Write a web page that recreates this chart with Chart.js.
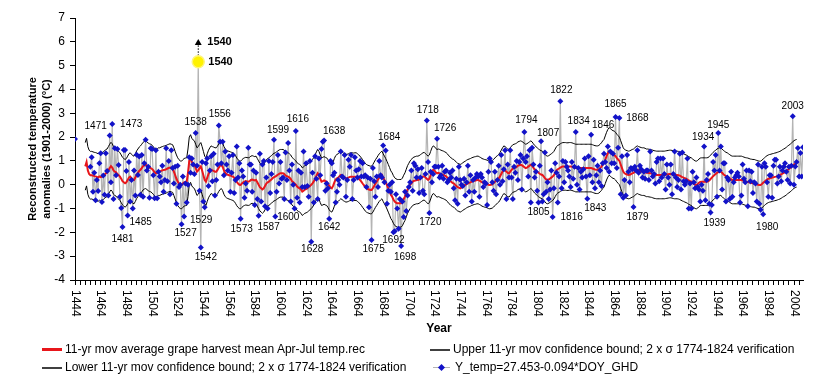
<!DOCTYPE html>
<html>
<head>
<meta charset="utf-8">
<script src="https://cdn.jsdelivr.net/npm/chart.js@4.4.1/dist/chart.umd.min.js"></script>
<style>
html,body{margin:0;padding:0;background:#fff;}
#wrap{position:relative;width:818px;height:384px;overflow:hidden;background:#fff;}
canvas{position:absolute;left:0;top:0;}
.lg{position:absolute;font-family:"Liberation Sans",Arial,sans-serif;font-size:12px;color:#000;white-space:nowrap;line-height:14px;}
.ln{position:absolute;}
</style>
</head>
<body>
<div id="wrap">
<canvas id="c" width="818" height="384"></canvas>
<div class="ln" style="left:42px;top:348px;width:20px;height:3px;background:#E8161B;"></div>
<div class="lg" style="left:65px;top:342px;">11-yr mov average grape harvest mean Apr-Jul temp.rec</div>
<div class="ln" style="left:430px;top:349px;width:20px;height:1.5px;background:#404040;"></div>
<div class="lg" style="left:453px;top:342px;">Upper 11-yr mov confidence bound; 2 x σ 1774-1824 verification</div>
<div class="ln" style="left:42px;top:367px;width:20px;height:1.5px;background:#404040;"></div>
<div class="lg" style="left:65px;top:360px;">Lower 11-yr mov confidence bound; 2 x σ 1774-1824 verification</div>
<div class="ln" style="left:433px;top:367px;width:17px;height:1px;background:#B4B4B4;"></div>
<div class="ln" style="left:439px;top:365px;width:5px;height:5px;background:#1212C8;transform:rotate(45deg);"></div>
<div class="lg" style="left:455px;top:360px;">Y_temp=27.453-0.094*DOY_GHD</div>
</div>
<script>
// ---------------- DATA ----------------
const firstYear = 1444;
const lastYear = 2011;
const xTickLabels = ['1444','1464','1484','1504','1524','1544','1564','1584','1604','1624','1644','1664','1684','1704','1724','1744','1764','1784','1804','1824','1844','1864','1884','1904','1924','1944','1964','1984','2004'];

// Y_temp = 27.453 - 0.094*DOY_GHD, yearly from 1444
const tempStart = 1444;
const tempRec = [
1.92,null,null,null,null,null,null,null,null,null,
null,null,0.75,1.15,-0.3,0.5,-0.65,0.2,-0.26,0.9,
1.32,-0.73,0.39,-0.42,1.32,0.58,-0.45,2.07,0.1,2.55,
-0.6,1.53,0.4,1.5,0.83,-0.5,-0.98,-1.78,1.46,1.46,
0.58,-1.29,0.95,-0.7,0.2,-1.0,0.6,-0.45,1.26,0.41,
1.19,-0.42,1.25,-0.5,0.9,1.89,0.6,0.75,-0.55,1.53,
1.5,0.4,-0.57,1.45,-0.57,0.55,0.35,0.1,0.8,-0.3,
0.2,1.53,0.15,1.0,-0.4,1.45,0.7,0.05,0.75,-0.8,
0.8,-0.1,0.0,-1.66,0.35,-1.33,0.05,-0.75,0.0,1.15,
0.5,1.1,0.85,0.45,2.17,0.8,5.16,-0.25,-2.64,0.95,
-0.7,-0.95,0.9,1.1,-0.05,0.6,1.2,0.15,1.3,-0.45,
0.2,0.85,2.49,1.8,0.9,1.8,0.4,1.4,0.85,0.6,
1.2,-0.3,0.5,1.25,-0.35,0.2,1.6,0.3,0.9,-1.43,
0.6,0.35,-0.55,0.05,-0.25,1.55,0.85,0.85,-0.3,0.6,
-0.85,0.5,-0.6,-1.3,1.3,-0.7,0.85,1.0,-0.9,0.3,
-1.0,1.0,-0.35,0.45,0.95,1.89,-1.33,-0.3,1.25,0.05,
0.95,0.25,0.3,-0.6,1.35,0.2,1.75,0.6,-0.7,0.85,
0.0,-1.0,2.26,-0.55,0.6,-0.75,0.5,-0.1,1.4,-0.1,
0.9,-0.05,-0.5,1.0,-2.39,0.5,-0.75,1.2,0.25,-0.6,
1.1,0.4,1.5,1.8,1.86,-0.25,0.05,-0.15,-1.43,1.0,
0.9,0.4,0.5,-0.75,-0.3,0.2,0.0,1.4,0.35,0.3,
1.25,-0.5,0.2,1.05,0.75,1.25,-0.6,0.2,1.15,0.6,
0.3,0.65,1.0,0.35,0.9,0.35,0.4,-0.1,0.3,-0.95,
0.25,-2.32,0.7,0.15,-0.5,0.35,-0.1,1.0,0.4,0.3,
1.65,0.1,1.44,-0.8,-0.25,0.0,-0.3,0.1,-1.99,-1.95,
-0.4,-1.0,-1.85,-0.6,-2.57,-0.7,-1.35,-0.3,-1.1,-0.45,
-0.1,0.1,0.6,-0.25,0.9,0.8,0.3,0.65,-0.35,0.3,
0.7,-0.25,-0.4,0.45,2.7,0.95,-1.19,0.55,0.1,0.45,
0.75,0.75,1.93,0.75,0.3,0.4,0.8,0.25,0.55,0.6,
0.1,0.2,0.5,0.3,0.6,-0.15,-0.65,0.25,-0.8,0.75,
0.2,0.0,-0.05,0.25,-0.45,0.1,0.8,-0.3,0.4,-0.7,
0.2,-0.3,0.3,0.45,0.35,-0.5,0.45,0.3,-0.1,0.1,
0.05,-0.85,0.55,1.1,0.95,0.1,-0.25,0.55,-0.4,0.2,
0.8,0.0,1.25,0.15,0.65,1.45,-0.6,0.85,0.3,1.45,
0.3,-0.6,0.75,0.5,1.0,0.2,0.95,1.25,-0.2,1.1,
2.21,0.95,1.2,0.35,1.45,-0.75,1.55,0.85,0.3,0.55,
-0.25,-0.75,0.8,1.83,-0.7,-0.4,1.35,-0.3,0.1,-0.6,
-0.2,0.6,-1.35,-0.15,0.9,0.5,-0.75,0.35,3.5,-0.15,
1.0,0.1,0.95,0.75,0.6,0.35,-0.1,0.95,0.25,0.75,
2.21,0.0,0.7,-0.2,0.55,0.3,0.65,1.1,0.35,-0.59,
1.2,0.4,2.1,0.1,1.05,-0.15,0.4,0.8,0.1,0.6,
-0.05,0.9,1.3,0.95,0.7,1.6,0.55,1.4,0.9,1.3,
0.9,2.84,0.7,1.55,2.8,-0.4,1.2,-0.55,0.2,-0.45,
1.25,0.55,0.1,0.7,0.65,-0.93,0.75,0.6,1.45,0.5,
0.8,0.65,0.3,0.55,0.25,0.6,0.6,0.2,1.4,0.6,
0.35,0.45,0.05,0.95,1.1,0.15,1.1,0.3,1.1,0.45,
-0.2,0.85,0.3,0.0,0.85,-0.4,0.45,1.4,0.3,-0.1,
0.2,1.3,-0.2,1.35,0.15,0.0,0.15,1.1,-1.0,0.05,
-1.0,0.55,0.1,-0.15,0.3,-0.1,-0.2,-0.7,0.0,-0.25,
1.6,-0.65,0.2,0.45,-0.8,-1.17,-0.85,0.95,0.6,1.25,
-0.5,2.17,0.6,1.6,-0.2,0.9,0.9,-0.7,0.3,0.2,
-0.6,0.55,-0.5,0.1,0.3,0.4,0.5,0.35,-0.75,-0.45,
0.85,0.25,0.1,0.6,-0.9,0.6,0.15,0.55,-0.35,0.1,
0.05,-0.7,0.85,-0.8,-1.05,0.75,-1.24,0.9,0.75,0.1,
-0.5,0.4,0.4,-0.55,0.8,1.05,1.05,0.05,0.35,0.75,
0.15,0.6,0.75,0.9,0.55,0.2,0.75,0.05,0.8,2.87,
0.0,0.77,0.95,1.54,0.35,1.33,0.35,1.57
];

// 11-yr moving average and confidence bounds, yearly from 1452
const smoothStart = 1452;
const movAvg = [
0.77,0.95,0.6,0.45,0.4,0.4,0.38,0.36,0.35,0.33,
0.3,0.35,0.32,0.34,0.38,0.42,0.48,0.5,0.6,0.7,
0.78,0.72,0.6,0.55,0.52,0.45,0.4,0.34,0.25,0.15,
0.1,0.06,0.1,0.2,0.3,0.34,0.28,0.22,0.2,0.3,
0.42,0.5,0.58,0.63,0.7,0.78,0.82,0.84,0.8,0.75,
0.72,0.7,0.66,0.6,0.52,0.48,0.5,0.55,0.55,0.58,
0.6,0.62,0.63,0.65,0.68,0.7,0.72,0.7,0.68,0.55,
0.4,0.25,0.13,0.05,0.0,-0.01,0.05,0.1,0.12,0.13,
0.5,1.0,1.1,0.95,0.88,0.84,0.7,0.55,0.6,0.7,
0.77,0.6,0.4,0.2,0.13,0.3,0.45,0.55,0.63,0.6,
0.58,0.55,0.55,0.62,0.72,0.8,0.84,0.75,0.6,0.5,
0.45,0.42,0.4,0.38,0.36,0.34,0.3,0.22,0.12,0.05,
0.0,-0.01,0.05,0.1,0.13,0.15,0.14,0.13,0.15,0.2,
0.22,0.2,0.18,0.2,0.1,0.0,-0.1,-0.15,-0.2,-0.15,
-0.05,0.05,0.1,0.13,0.18,0.22,0.28,0.32,0.34,0.38,
0.42,0.46,0.48,0.48,0.48,0.45,0.38,0.36,0.34,0.3,
0.25,0.15,0.1,0.05,0.0,-0.08,-0.12,-0.15,-0.2,-0.29,
-0.25,-0.2,-0.18,-0.15,-0.1,-0.05,0.0,0.06,0.15,0.25,
0.38,0.48,0.4,0.25,0.13,0.15,0.18,0.15,0.13,0.05,
-0.05,-0.12,-0.15,-0.05,0.1,0.22,0.27,0.3,0.36,0.41,
0.38,0.33,0.3,0.27,0.28,0.3,0.33,0.34,0.34,0.33,
0.34,0.34,0.3,0.25,0.2,0.13,0.05,-0.02,-0.1,-0.15,
-0.18,-0.2,-0.22,-0.22,-0.15,-0.05,0.05,0.13,0.22,0.3,
0.36,0.41,0.3,0.2,0.1,-0.02,-0.15,-0.28,-0.42,-0.5,
-0.62,-0.71,-0.75,-0.78,-0.78,-0.78,-0.78,-0.72,-0.6,-0.5,
-0.35,-0.2,-0.1,0.0,0.06,0.13,0.16,0.18,0.2,0.2,
0.22,0.26,0.3,0.34,0.36,0.3,0.25,0.2,0.25,0.4,
0.55,0.63,0.6,0.52,0.48,0.5,0.48,0.45,0.43,0.41,
0.38,0.35,0.3,0.22,0.18,0.12,0.08,0.06,0.0,-0.05,
-0.1,-0.12,-0.15,-0.12,-0.08,-0.04,-0.01,0.03,0.06,0.08,
0.1,0.13,0.15,0.17,0.18,0.2,0.2,0.17,0.14,0.1,
0.08,0.06,0.05,0.03,0.0,-0.01,0.0,0.02,0.06,0.12,
0.18,0.22,0.27,0.35,0.45,0.55,0.63,0.6,0.55,0.5,
0.48,0.55,0.62,0.68,0.7,0.72,0.75,0.8,0.82,0.84,
0.82,0.78,0.74,0.7,0.72,0.76,0.8,0.84,0.8,0.72,
0.65,0.6,0.55,0.5,0.46,0.43,0.41,0.35,0.28,0.22,
0.2,0.22,0.26,0.3,0.34,0.4,0.5,0.6,0.65,0.68,
0.72,0.75,0.77,0.77,0.77,0.76,0.76,0.77,0.77,0.76,
0.74,0.72,0.7,0.7,0.7,0.7,0.7,0.7,0.7,0.7,
0.7,0.7,0.7,0.7,0.7,0.68,0.66,0.64,0.63,0.63,
0.65,0.7,0.76,0.84,0.9,1.05,1.2,1.32,1.4,1.36,
1.3,1.27,1.25,1.2,1.12,1.06,1.0,0.85,0.7,0.55,
0.48,0.45,0.43,0.41,0.42,0.45,0.48,0.5,0.55,0.6,
0.63,0.6,0.58,0.56,0.55,0.55,0.53,0.5,0.5,0.49,
0.48,0.47,0.45,0.43,0.42,0.41,0.41,0.41,0.41,0.41,
0.41,0.41,0.42,0.43,0.44,0.45,0.45,0.44,0.42,0.41,
0.41,0.41,0.4,0.38,0.35,0.32,0.3,0.27,0.25,0.22,
0.18,0.15,0.13,0.08,0.04,0.0,-0.01,0.02,0.08,0.12,
0.13,0.13,0.13,0.13,0.13,0.14,0.18,0.24,0.3,0.36,
0.41,0.45,0.5,0.53,0.55,0.55,0.5,0.44,0.4,0.36,
0.34,0.3,0.26,0.22,0.2,0.2,0.2,0.2,0.2,0.2,
0.2,0.2,0.18,0.16,0.14,0.13,0.12,0.1,0.08,0.07,
0.06,0.06,0.04,0.02,0.0,-0.01,-0.01,0.03,0.08,0.13,
0.18,0.22,0.25,0.27,0.28,0.3,0.31,0.33,0.34,0.36,
0.38,0.4,0.43,0.47,0.5,0.53,0.57,0.62,0.66,0.7,
0.75,0.8,0.85,0.88,0.9
];
const upperBound = [
1.77,1.95,1.6,1.45,1.4,1.4,1.38,1.36,1.35,1.33,
1.3,1.35,1.32,1.34,1.38,1.42,1.48,1.5,1.6,1.7,
1.78,1.72,1.6,1.55,1.52,1.45,1.4,1.34,1.25,1.15,
1.1,1.06,1.1,1.2,1.3,1.34,1.28,1.22,1.2,1.3,
1.42,1.5,1.58,1.63,1.7,1.78,1.82,1.84,1.8,1.75,
1.72,1.7,1.66,1.6,1.52,1.48,1.5,1.55,1.55,1.58,
1.6,1.62,1.63,1.65,1.68,1.7,1.72,1.7,1.68,1.55,
1.4,1.25,1.13,1.05,1.0,0.99,1.05,1.1,1.12,1.13,
1.5,2.0,2.1,1.95,1.88,1.84,1.7,1.55,1.6,1.7,
1.77,1.6,1.4,1.2,1.13,1.3,1.45,1.55,1.63,1.6,
1.58,1.55,1.55,1.62,1.72,1.8,1.84,1.75,1.6,1.5,
1.45,1.42,1.4,1.38,1.36,1.34,1.3,1.22,1.12,1.05,
1.0,0.99,1.05,1.1,1.13,1.15,1.14,1.13,1.15,1.2,
1.22,1.2,1.18,1.2,1.1,1.0,0.9,0.85,0.8,0.85,
0.95,1.05,1.1,1.13,1.18,1.22,1.28,1.32,1.34,1.38,
1.42,1.46,1.48,1.48,1.48,1.45,1.38,1.36,1.34,1.3,
1.25,1.15,1.1,1.05,1.0,0.92,0.88,0.85,0.8,0.71,
0.75,0.8,0.82,0.85,0.9,0.95,1.0,1.06,1.15,1.25,
1.38,1.48,1.4,1.25,1.13,1.15,1.18,1.15,1.13,1.05,
0.95,0.88,0.85,0.95,1.1,1.22,1.27,1.3,1.36,1.41,
1.38,1.33,1.3,1.27,1.28,1.3,1.33,1.34,1.34,1.33,
1.34,1.34,1.3,1.25,1.2,1.13,1.05,0.98,0.9,0.85,
0.82,0.8,0.78,0.78,0.85,0.95,1.05,1.13,1.22,1.3,
1.36,1.41,1.3,1.2,1.1,0.98,0.85,0.72,0.58,0.5,
0.38,0.29,0.25,0.22,0.22,0.22,0.22,0.28,0.4,0.5,
0.65,0.8,0.9,1.0,1.06,1.13,1.16,1.18,1.2,1.2,
1.22,1.26,1.3,1.34,1.36,1.3,1.25,1.2,1.25,1.4,
1.55,1.63,1.6,1.52,1.48,1.5,1.48,1.45,1.43,1.41,
1.38,1.35,1.3,1.22,1.18,1.12,1.08,1.06,1.0,0.95,
0.9,0.88,0.85,0.88,0.92,0.96,0.99,1.03,1.06,1.08,
1.1,1.13,1.15,1.17,1.18,1.2,1.2,1.17,1.14,1.1,
1.08,1.06,1.05,1.03,1.0,0.99,1.0,1.02,1.06,1.12,
1.18,1.22,1.27,1.35,1.45,1.55,1.63,1.6,1.55,1.5,
1.48,1.55,1.62,1.68,1.7,1.72,1.75,1.8,1.82,1.84,
1.82,1.78,1.74,1.7,1.72,1.76,1.8,1.84,1.8,1.72,
1.65,1.6,1.55,1.5,1.46,1.43,1.41,1.35,1.28,1.22,
1.2,1.22,1.26,1.3,1.34,1.4,1.5,1.6,1.65,1.68,
1.72,1.75,1.77,1.77,1.77,1.76,1.76,1.77,1.77,1.76,
1.74,1.72,1.7,1.7,1.7,1.7,1.7,1.7,1.7,1.7,
1.7,1.7,1.7,1.7,1.7,1.68,1.66,1.64,1.63,1.63,
1.65,1.7,1.76,1.84,1.9,2.05,2.2,2.32,2.4,2.36,
2.3,2.27,2.25,2.2,2.12,2.06,2.0,1.85,1.7,1.55,
1.48,1.45,1.43,1.41,1.42,1.45,1.48,1.5,1.55,1.6,
1.63,1.6,1.58,1.56,1.55,1.55,1.53,1.5,1.5,1.49,
1.48,1.47,1.45,1.43,1.42,1.41,1.41,1.41,1.41,1.41,
1.41,1.41,1.42,1.43,1.44,1.45,1.45,1.44,1.42,1.41,
1.41,1.41,1.4,1.38,1.35,1.32,1.3,1.27,1.25,1.22,
1.18,1.15,1.13,1.08,1.04,1.0,0.99,1.02,1.08,1.12,
1.13,1.13,1.13,1.13,1.13,1.14,1.18,1.24,1.3,1.36,
1.41,1.45,1.5,1.53,1.55,1.55,1.5,1.44,1.4,1.36,
1.34,1.3,1.26,1.22,1.2,1.2,1.2,1.2,1.2,1.2,
1.2,1.2,1.18,1.16,1.14,1.13,1.12,1.1,1.08,1.07,
1.06,1.06,1.04,1.02,1.0,0.99,0.99,1.03,1.08,1.13,
1.18,1.22,1.25,1.27,1.28,1.3,1.31,1.33,1.34,1.36,
1.38,1.4,1.43,1.47,1.5,1.53,1.57,1.62,1.66,1.7,
1.75,1.8,1.85,1.88,1.9
];
const lowerBound = [
-0.23,-0.05,-0.4,-0.55,-0.6,-0.6,-0.62,-0.64,-0.65,-0.67,
-0.7,-0.65,-0.68,-0.66,-0.62,-0.58,-0.52,-0.5,-0.4,-0.3,
-0.22,-0.28,-0.4,-0.45,-0.48,-0.55,-0.6,-0.66,-0.75,-0.85,
-0.9,-0.94,-0.9,-0.8,-0.7,-0.66,-0.72,-0.78,-0.8,-0.7,
-0.58,-0.5,-0.42,-0.37,-0.3,-0.22,-0.18,-0.16,-0.2,-0.25,
-0.28,-0.3,-0.34,-0.4,-0.48,-0.52,-0.5,-0.45,-0.45,-0.42,
-0.4,-0.38,-0.37,-0.35,-0.32,-0.3,-0.28,-0.3,-0.32,-0.45,
-0.6,-0.75,-0.87,-0.95,-1.0,-1.01,-0.95,-0.9,-0.88,-0.87,
-0.5,0.0,0.1,-0.05,-0.12,-0.16,-0.3,-0.45,-0.4,-0.3,
-0.23,-0.4,-0.6,-0.8,-0.87,-0.7,-0.55,-0.45,-0.37,-0.4,
-0.42,-0.45,-0.45,-0.38,-0.28,-0.2,-0.16,-0.25,-0.4,-0.5,
-0.55,-0.58,-0.6,-0.62,-0.64,-0.66,-0.7,-0.78,-0.88,-0.95,
-1.0,-1.01,-0.95,-0.9,-0.87,-0.85,-0.86,-0.87,-0.85,-0.8,
-0.78,-0.8,-0.82,-0.8,-0.9,-1.0,-1.1,-1.15,-1.2,-1.15,
-1.05,-0.95,-0.9,-0.87,-0.82,-0.78,-0.72,-0.68,-0.66,-0.62,
-0.58,-0.54,-0.52,-0.52,-0.52,-0.55,-0.62,-0.64,-0.66,-0.7,
-0.75,-0.85,-0.9,-0.95,-1.0,-1.08,-1.12,-1.15,-1.2,-1.29,
-1.25,-1.2,-1.18,-1.15,-1.1,-1.05,-1.0,-0.94,-0.85,-0.75,
-0.62,-0.52,-0.6,-0.75,-0.87,-0.85,-0.82,-0.85,-0.87,-0.95,
-1.05,-1.12,-1.15,-1.05,-0.9,-0.78,-0.73,-0.7,-0.64,-0.59,
-0.62,-0.67,-0.7,-0.73,-0.72,-0.7,-0.67,-0.66,-0.66,-0.67,
-0.66,-0.66,-0.7,-0.75,-0.8,-0.87,-0.95,-1.02,-1.1,-1.15,
-1.18,-1.2,-1.22,-1.22,-1.15,-1.05,-0.95,-0.87,-0.78,-0.7,
-0.64,-0.59,-0.7,-0.8,-0.9,-1.02,-1.15,-1.28,-1.42,-1.5,
-1.62,-1.71,-1.75,-1.78,-1.78,-1.78,-1.78,-1.72,-1.6,-1.5,
-1.35,-1.2,-1.1,-1.0,-0.94,-0.87,-0.84,-0.82,-0.8,-0.8,
-0.78,-0.74,-0.7,-0.66,-0.64,-0.7,-0.75,-0.8,-0.75,-0.6,
-0.45,-0.37,-0.4,-0.48,-0.52,-0.5,-0.52,-0.55,-0.57,-0.59,
-0.62,-0.65,-0.7,-0.78,-0.82,-0.88,-0.92,-0.94,-1.0,-1.05,
-1.1,-1.12,-1.15,-1.12,-1.08,-1.04,-1.01,-0.97,-0.94,-0.92,
-0.9,-0.87,-0.85,-0.83,-0.82,-0.8,-0.8,-0.83,-0.86,-0.9,
-0.92,-0.94,-0.95,-0.97,-1.0,-1.01,-1.0,-0.98,-0.94,-0.88,
-0.82,-0.78,-0.73,-0.65,-0.55,-0.45,-0.37,-0.4,-0.45,-0.5,
-0.52,-0.45,-0.38,-0.32,-0.3,-0.28,-0.25,-0.2,-0.18,-0.16,
-0.18,-0.22,-0.26,-0.3,-0.28,-0.24,-0.2,-0.16,-0.2,-0.28,
-0.35,-0.4,-0.45,-0.5,-0.54,-0.57,-0.59,-0.65,-0.72,-0.78,
-0.8,-0.78,-0.74,-0.7,-0.66,-0.6,-0.5,-0.4,-0.35,-0.32,
-0.28,-0.25,-0.23,-0.23,-0.23,-0.24,-0.24,-0.23,-0.23,-0.24,
-0.26,-0.28,-0.3,-0.3,-0.3,-0.3,-0.3,-0.3,-0.3,-0.3,
-0.3,-0.3,-0.3,-0.3,-0.3,-0.32,-0.34,-0.36,-0.37,-0.37,
-0.35,-0.3,-0.24,-0.16,-0.1,0.05,0.2,0.32,0.4,0.36,
0.3,0.27,0.25,0.2,0.12,0.06,0.0,-0.15,-0.3,-0.45,
-0.52,-0.55,-0.57,-0.59,-0.58,-0.55,-0.52,-0.5,-0.45,-0.4,
-0.37,-0.4,-0.42,-0.44,-0.45,-0.45,-0.47,-0.5,-0.5,-0.51,
-0.52,-0.53,-0.55,-0.57,-0.58,-0.59,-0.59,-0.59,-0.59,-0.59,
-0.59,-0.59,-0.58,-0.57,-0.56,-0.55,-0.55,-0.56,-0.58,-0.59,
-0.59,-0.59,-0.6,-0.62,-0.65,-0.68,-0.7,-0.73,-0.75,-0.78,
-0.82,-0.85,-0.87,-0.92,-0.96,-1.0,-1.01,-0.98,-0.92,-0.88,
-0.87,-0.87,-0.87,-0.87,-0.87,-0.86,-0.82,-0.76,-0.7,-0.64,
-0.59,-0.55,-0.5,-0.47,-0.45,-0.45,-0.5,-0.56,-0.6,-0.64,
-0.66,-0.7,-0.74,-0.78,-0.8,-0.8,-0.8,-0.8,-0.8,-0.8,
-0.8,-0.8,-0.82,-0.84,-0.86,-0.87,-0.88,-0.9,-0.92,-0.93,
-0.94,-0.94,-0.96,-0.98,-1.0,-1.01,-1.01,-0.97,-0.92,-0.87,
-0.82,-0.78,-0.75,-0.73,-0.72,-0.7,-0.69,-0.67,-0.66,-0.64,
-0.62,-0.6,-0.57,-0.53,-0.5,-0.47,-0.43,-0.38,-0.34,-0.3,
-0.25,-0.2,-0.15,-0.12,-0.1
];

// 1540 highlighted value and arrow
const highlightYear = 1540;
const highlightValue = 5.16;
const arrowTipValue = 5.95;

// annotated years
const labelYears = [1471,1473,1481,1485,1527,1529,1538,1542,1556,1573,1587,1599,1600,1616,1628,1638,1642,1675,1684,1692,1698,1718,1720,1726,1794,1805,1807,1816,1822,1834,1843,1846,1865,1868,1879,1934,1939,1945,1980,2003];

// ---------------- STYLE / PLACEMENT ----------------
const FONT = '"Liberation Sans", Arial, Helvetica, sans-serif';
const labelOffsets = {
1471:[-14,-9],1473:[19,0],1481:[0,12],1485:[13,7],1527:[4,9],1529:[17,4],1538:[0,-11],1542:[5,10],
1556:[1,-11],1573:[1,10],1587:[10,12],1599:[4,-9],1600:[13,1],1616:[2,-12],1628:[1,8],1638:[10,-9],
1642:[0,8],1675:[2,9],1684:[6,-8],1692:[0,8],1698:[4,11],1718:[1,-10],1720:[1,9],1726:[8,-11],
1794:[2,-12],1805:[0,10],1807:[7,-8],1816:[19,0],1822:[1,-11],1834:[3,-11],1843:[8,9],1846:[12,-9],
1865:[0,-13],1868:[18,0],1879:[4,10],1934:[-1,-9],1939:[4,11],1945:[0,-8],1980:[4,13],2003:[0,-10]
};

function toXY(start, arr){ return arr.map((v,i)=>({x:start+i, y:v})); }
const tempXY = toXY(tempStart, tempRec);
const avgXY = toXY(smoothStart, movAvg);
const upXY = toXY(smoothStart, upperBound);
const loXY = toXY(smoothStart, lowerBound);
function valueAt(year){ return tempRec[year - tempStart]; }

const annotPlugin = {
  id: 'annot',
  afterDraw(chart){
    const ctx = chart.ctx, xs = chart.scales.x, ys = chart.scales.y;
    ctx.save();
    ctx.fillStyle = '#000';
    ctx.font = '12px ' + FONT;
    ctx.textAlign = 'left';
    ctx.textBaseline = 'middle';
    xTickLabels.forEach(t => {
      const px = xs.getPixelForValue(Number(t));
      ctx.save();
      ctx.translate(px, xs.top + 10);
      ctx.rotate(Math.PI/2);
      ctx.fillText(t, 0, 0);
      ctx.restore();
    });
    ctx.font = '10px ' + FONT;
    ctx.textAlign = 'center';
    labelYears.forEach(yr => {
      const off = labelOffsets[yr] || [0,-10];
      const px = xs.getPixelForValue(yr) + off[0];
      const py = ys.getPixelForValue(valueAt(yr)) + off[1];
      ctx.fillText(String(yr), px, py);
    });
    ctx.font = 'bold 11px ' + FONT;
    ctx.textAlign = 'left';
    const hx = xs.getPixelForValue(highlightYear);
    ctx.fillText(String(highlightYear), hx + 10, ys.getPixelForValue(highlightValue));
    ctx.fillText(String(highlightYear), hx + 9, ys.getPixelForValue(arrowTipValue) - 1);
    ctx.restore();
  }
};

new Chart(document.getElementById('c'), {
  type: 'line',
  data: {
    datasets: [
      { label: '1540 marker', data: [{x:highlightYear, y:highlightValue}], showLine:false,
        pointStyle:'circle', pointRadius:6, pointBackgroundColor:'#FFF200', pointBorderColor:'#FFF57A', pointBorderWidth:1.5, order:0 },
      { label: '1540 arrow', data: [{x:highlightYear, y:highlightValue}, {x:highlightYear, y:arrowTipValue}],
        borderColor:'#000', borderWidth:1, borderDash:[1.5,1.5], pointRadius:[0,4], pointStyle:'triangle',
        pointBackgroundColor:'#000', pointBorderColor:'#000', pointBorderWidth:0, order:1 },
      { label: 'Y_temp points', data: tempXY, showLine:false, pointStyle:'rectRot', pointRadius:3,
        pointBackgroundColor:'#1212C8', pointBorderColor:'#1212C8', pointBorderWidth:0, order:2 },
      { label: '11-yr mov average grape harvest mean Apr-Jul temp.rec', data: avgXY, borderColor:'#E8161B',
        borderWidth:2, pointRadius:0, tension:0, order:3 },
      { label: 'Upper bound', data: upXY, borderColor:'#000', borderWidth:1, pointRadius:0, order:4 },
      { label: 'Lower bound', data: loXY, borderColor:'#000', borderWidth:1, pointRadius:0, order:5 },
      { label: 'Y_temp line', data: tempXY, borderColor:'#B4B4B4', borderWidth:1.2, pointRadius:0, spanGaps:false, order:6 }
    ]
  },
  options: {
    responsive: false,
    animation: false,
    events: [],
    layout: { padding: { left: 0, right: 15, top: 18, bottom: 0 } },
    plugins: { legend: { display: false }, tooltip: { enabled: false } },
    scales: {
      x: {
        type: 'linear', min: firstYear, max: lastYear,
        afterFit: s => { s.height = 104; },
        grid: { drawOnChartArea: false, drawTicks: true, tickLength: 5, color: '#000', lineWidth: 1 },
        border: { color: '#000', width: 1 },
        ticks: { stepSize: 4, includeBounds: false, autoSkip: false, maxRotation: 0, minRotation: 0,
                 callback: () => '', font: { size: 2 } },
        title: { display: true, text: 'Year', color: '#000', font: { family: FONT, size: 12, weight: 'bold' },
                 padding: { top: 0, bottom: 48 } }
      },
      y: {
        min: -4, max: 7,
        afterFit: s => { s.width = 75; },
        ticks: { stepSize: 1, color: '#000', font: { family: FONT, size: 12 }, padding: 5 },
        grid: { drawOnChartArea: false, drawTicks: true, tickLength: 5, color: '#000' },
        border: { color: '#000', width: 1 },
        title: { display: true, text: ['Reconstructed temperature', 'anomalies (1901-2000) (°C)'], color: '#000',
                 font: { family: FONT, size: 11, weight: 'bold', lineHeight: 1.25 }, padding: { top: 26, bottom: 0 } }
      }
    }
  },
  plugins: [annotPlugin]
});
</script>
</body>
</html>
